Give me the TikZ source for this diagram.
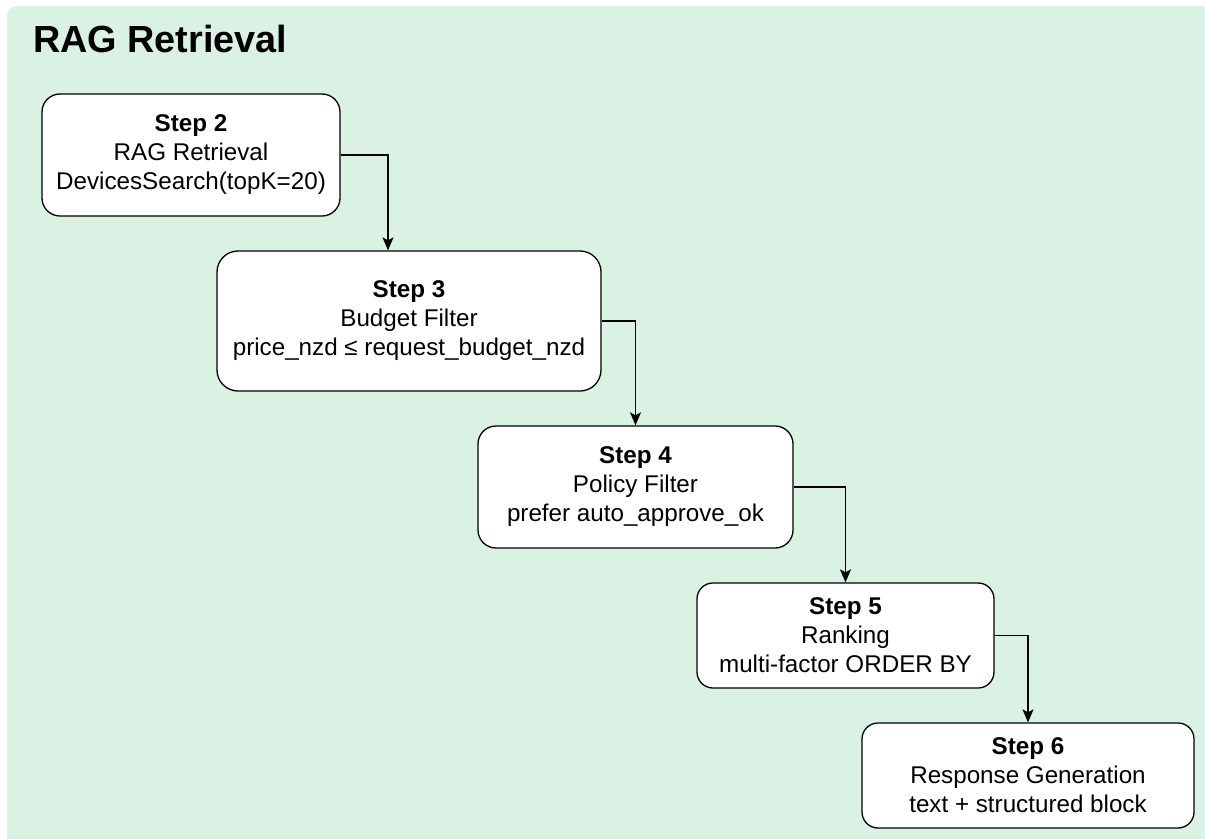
\documentclass[tikz,border=0pt]{standalone}
\usepackage{fontspec}
\setmainfont{Liberation Sans}
\usetikzlibrary{arrows.meta}
\definecolor{panelgreen}{RGB}{218,242,228}
\begin{document}
\begin{tikzpicture}[x=1bp,y=-1bp,
  stepbox/.style={draw=black, line width=1.3bp, fill=white, inner sep=0pt,
    align=center, font=\fontsize{24.2bp}{29bp}\selectfont},
  flow/.style={draw=black, line width=1.3bp,
    -{Stealth[length=13bp,width=11bp,inset=3bp]}}]
  \useasboundingbox (0,0) rectangle (1205,839);
  % panel
  \begin{scope}
    \clip (0,0) rectangle (1205,839);
    \fill[panelgreen, rounded corners=10bp] (7,6) rectangle (1215,850);
  \end{scope}
  \node[anchor=base west, inner sep=0pt, font=\fontsize{37.8bp}{44bp}\selectfont\bfseries]
    (title) at (33,52) {RAG Retrieval};
  % steps
  \node[stepbox, rounded corners=18bp, minimum width=298bp, minimum height=122bp]
    (s2) at (191,155) {\textbf{Step 2}\\RAG Retrieval\\DevicesSearch(topK=20)};
  \node[stepbox, rounded corners=21bp, minimum width=384bp, minimum height=140bp]
    (s3) at (409,321) {\textbf{Step 3}\\Budget Filter\\price\_nzd ≤ request\_budget\_nzd};
  \node[stepbox, rounded corners=18bp, minimum width=315bp, minimum height=122bp]
    (s4) at (635.5,487) {\textbf{Step 4}\\Policy Filter\\prefer auto\_approve\_ok};
  \node[stepbox, rounded corners=16bp, minimum width=297bp, minimum height=105bp]
    (s5) at (845.5,635.5) {\textbf{Step 5}\\Ranking\\multi-factor ORDER BY};
  \node[stepbox, rounded corners=16bp, minimum width=332bp, minimum height=105bp]
    (s6) at (1028,775.5) {\textbf{Step 6}\\Response Generation\\text + structured block};
  % connectors
  \draw[flow] (s2.east) -| ([xshift=-21bp]s3.north);
  \draw[flow] (s3.east) -| (s4.north);
  \draw[flow] (s4.east) -| (s5.north);
  \draw[flow] (s5.east) -| (s6.north);
\end{tikzpicture}
\end{document}
